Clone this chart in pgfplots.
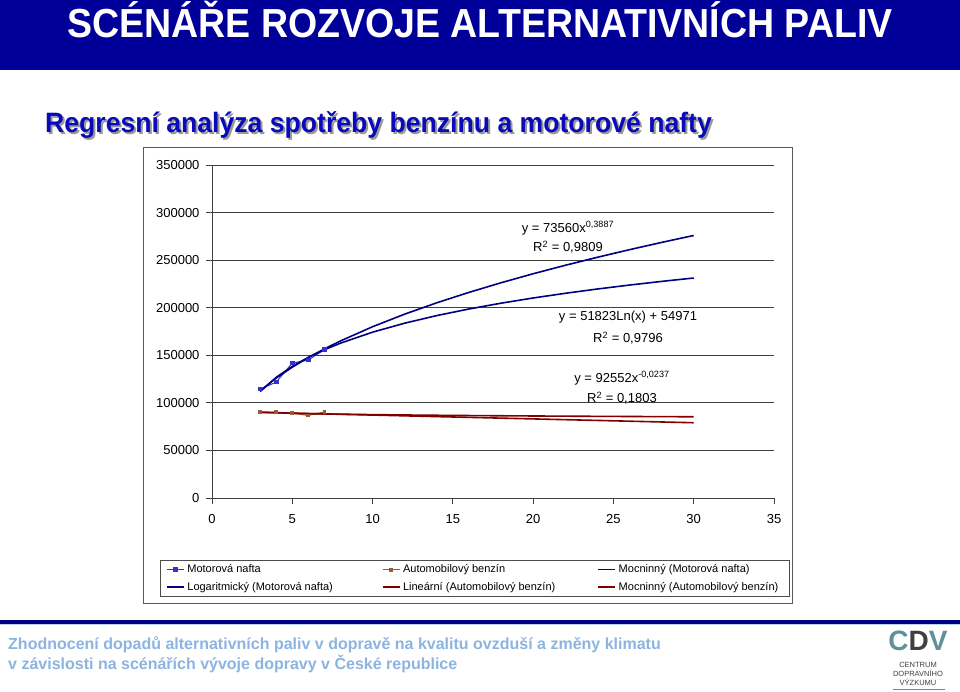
\documentclass[border=0pt]{standalone}
\usepackage{fontspec}
\setmainfont{Liberation Sans}
\usepackage{pgfplots}
\pgfplotsset{compat=1.18}
\definecolor{hdrblue}{RGB}{0,0,153}
\definecolor{subblue}{RGB}{10,10,185}
\definecolor{navyl}{RGB}{0,0,128}
\definecolor{darkredl}{RGB}{128,0,0}
\definecolor{nafta}{RGB}{51,51,204}
\definecolor{benzin}{RGB}{153,90,50}
\definecolor{foot}{RGB}{140,180,225}
\definecolor{cdv}{RGB}{95,145,155}
\begin{document}
\begin{tikzpicture}[x=1pt,y=1pt]
\fill[white] (0,0) rectangle (960,-692);
\fill[hdrblue] (0,0) rectangle (960,-70);
\node[anchor=base,white,font=\bfseries\fontsize{39}{39}\selectfont,inner sep=0] at (480,-38) {\scalebox{0.962}[1.04]{SCÉNÁŘE ROZVOJE ALTERNATIVNÍCH PALIV}};
\node[anchor=base west,black!40,font=\bfseries\fontsize{28}{28}\selectfont,inner sep=0] at (47,-135) {\scalebox{0.95}[1]{Regresní analýza spotřeby benzínu a motorové nafty}};
\node[anchor=base west,subblue,font=\bfseries\fontsize{28}{28}\selectfont,inner sep=0] at (45,-133) {\scalebox{0.95}[1]{Regresní analýza spotřeby benzínu a motorové nafty}};
\draw[black!65,line width=0.8pt] (143,-147) rectangle (792,-603);
\begin{axis}[at={(212pt,-498pt)},anchor=south west,scale only axis,
  width=562pt,height=333pt,
  xmin=0,xmax=35,ymin=0,ymax=350000,
  xtick={0,5,...,35},ytick={0,50000,...,350000},
  scaled y ticks=false,
  /pgf/number format/fixed,
  /pgf/number format/1000 sep={},
  /pgf/number format/assume math mode=true,
  ymajorgrids,grid style={black!75,line width=0.8pt},
  axis lines=left,axis line style={-,black!75,line width=0.8pt},
  tick align=outside,major tick length=6pt,tick style={black!75,line width=0.8pt},
  ticklabel style={font=\fontsize{13}{13}\selectfont},
  xticklabel style={yshift=-7pt},
  yticklabel style={xshift=-3pt},
  legend columns=3,
  legend cell align=left,
  legend style={at={(-0.0925,-0.186)},anchor=north west,draw=black!70,
    font=\fontsize{11}{11}\selectfont,inner xsep=6pt,inner ysep=1pt,
    /tikz/every odd column/.append style={column sep=1pt},
    nodes={inner xsep=1.5pt,inner ysep=3.75pt}},
  legend image code/.code={\draw[mark repeat=2,mark phase=2,#1] plot coordinates {(0cm,0cm) (0.3cm,0cm) (0.6cm,0cm)};},
]
\addplot[nafta,line width=1pt,mark=square*,mark size=1.8pt,mark options={solid}] coordinates {
 (3,114500) (4,121800) (5,141800) (6,145000) (7,156000)};
\addlegendentry{\makebox[193pt][l]{Motorová nafta}}
\addplot[benzin,line width=1pt,mark=square*,mark size=1.4pt] coordinates {
 (3,90100) (4,90300) (5,89000) (6,86800) (7,90500)};
\addlegendentry{\makebox[193pt][l]{Automobilový benzín}}
\addplot[navyl,line width=1.6pt] coordinates {
 (3,112750) (4,126090) (5,137500) (6,147620) (7,156730) (8,165070) (10,180020)
 (12,193260) (14,205180) (16,216110) (18,226240) (20,235690) (22,244590)
 (24,253000) (26,261000) (28,268630) (30,275930)};
\addlegendentry{\makebox[163pt][l]{Mocninný (Motorová nafta)}}
\addplot[navyl,line width=1.6pt] coordinates {
 (3,111904) (4,126813) (5,138376) (6,147827) (7,155813) (8,162733) (10,174299)
 (12,183746) (14,191737) (16,198656) (18,204761) (20,210217) (22,215156)
 (24,219670) (26,223816) (28,227656) (30,231232)};
\addlegendentry{\makebox[193pt][l]{Logaritmický (Motorová nafta)}}
\addplot[darkredl,line width=1.6pt] coordinates {(3,89990) (30,79110)};
\addlegendentry{\makebox[193pt][l]{Lineární (Automobilový benzín)}}
\addplot[darkredl,line width=1.6pt] coordinates {
 (3,90173) (4,89560) (5,89089) (6,88704) (7,88381) (8,88101) (10,87637)
 (12,87259) (14,86941) (16,86667) (18,86424) (20,86209) (22,86014)
 (24,85837) (26,85675) (28,85524) (30,85385)};
\addlegendentry{\makebox[163pt][l]{Mocninný (Automobilový benzín)}}
\end{axis}
\begin{scope}[font=\fontsize{13}{13}\selectfont]
\node at (568,-228) {y = 73560x\textsuperscript{0,3887}};
\node at (568,-247) {R\textsuperscript{2} = 0,9809};
\node at (628,-317) {y = 51823Ln(x) + 54971};
\node at (628,-338) {R\textsuperscript{2} = 0,9796};
\node at (622,-378) {y = 92552x\textsuperscript{-0,0237}};
\node at (622,-398) {R\textsuperscript{2} = 0,1803};
\end{scope}
\fill[navyl] (0,-620) rectangle (960,-623.5);
\fill[foot!60] (0,-624) rectangle (960,-625);
\node[anchor=base west,foot,font=\bfseries\fontsize{16}{16}\selectfont,inner sep=0] at (8,-649) {Zhodnocení dopadů alternativních paliv v dopravě na kvalitu ovzduší a změny klimatu};
\node[anchor=base west,foot,font=\bfseries\fontsize{16}{16}\selectfont,inner sep=0] at (8,-669) {v závislosti na scénářích vývoje dopravy v České republice};
\node[font=\bfseries\fontsize{28}{28}\selectfont,inner sep=0] at (918,-641) {\textcolor{cdv}{C}\textcolor{black!75}{D}\textcolor{cdv}{V}};
\node[font=\fontsize{7.5}{9}\selectfont,black!75,align=center,inner sep=0] at (918,-674) {CENTRUM\\DOPRAVNÍHO\\VÝZKUMU};
\draw[cdv,line width=1pt] (893,-689) -- (945,-689);
\end{tikzpicture}
\end{document}
